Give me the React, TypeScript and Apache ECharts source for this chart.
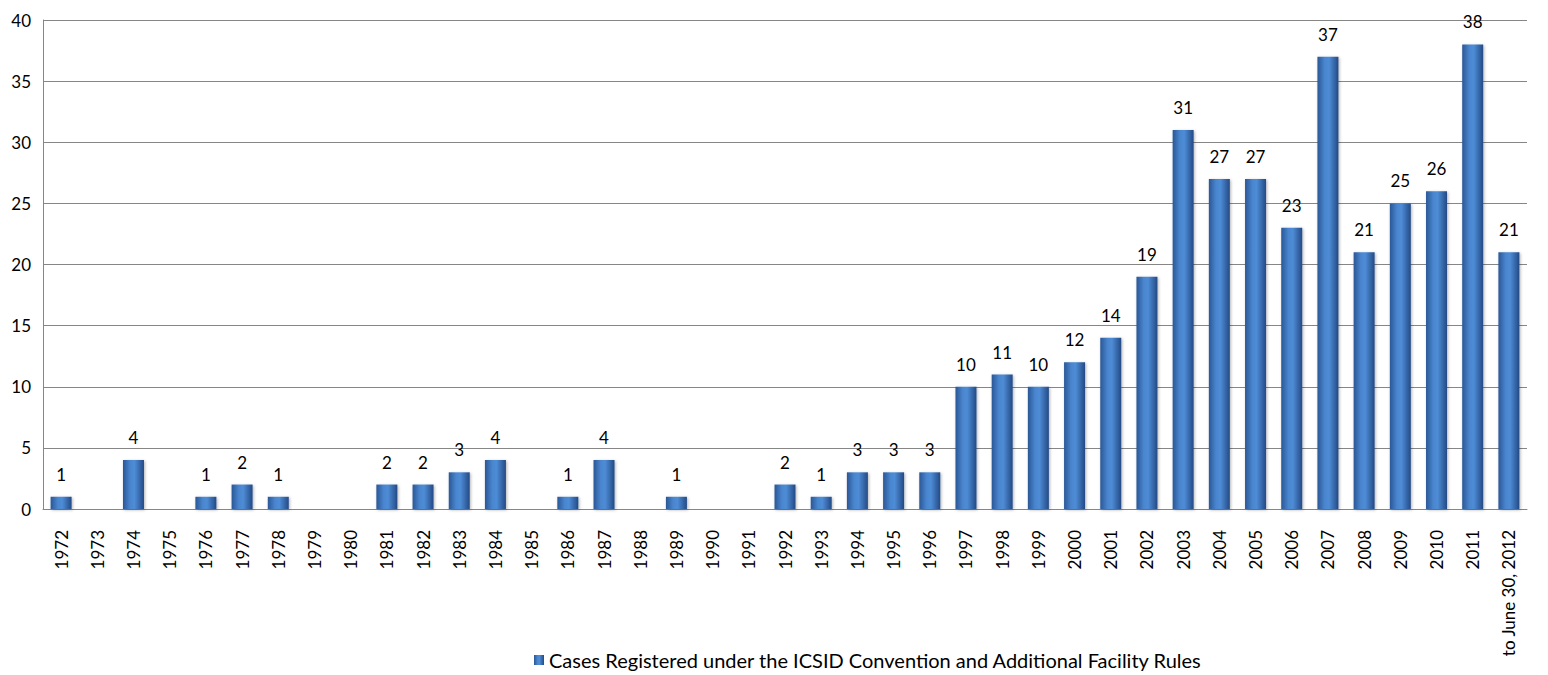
import React, { useEffect, useRef } from "react";
import * as echarts from "echarts";

const categories = [
  "1972","1973","1974","1975","1976","1977","1978","1979","1980","1981",
  "1982","1983","1984","1985","1986","1987","1988","1989","1990","1991",
  "1992","1993","1994","1995","1996","1997","1998","1999","2000","2001",
  "2002","2003","2004","2005","2006","2007","2008","2009","2010","2011",
  "to June 30, 2012",
];
const cases = [
  1, 0, 4, 0, 1, 2, 1, 0, 0, 2,
  2, 3, 4, 0, 1, 4, 0, 1, 0, 0,
  2, 1, 3, 3, 3, 10, 11, 10, 12, 14,
  19, 31, 27, 27, 23, 37, 21, 25, 26, 38,
  21,
];
const seriesName = "Cases Registered under the ICSID Convention and Additional Facility Rules";
const FONT = "Lato, 'Open Sans', sans-serif";

export default function App() {
  const ref = useRef<HTMLDivElement>(null);
  useEffect(() => {
    if (!ref.current) return;
    const chart = echarts.init(ref.current, null, { renderer: "svg" });
    const barGrad = new echarts.graphic.LinearGradient(0, 0, 1, 0, [
      { offset: 0, color: "#2a5796" },
      { offset: 0.35, color: "#4a86cf" },
      { offset: 0.55, color: "#4e8cd6" },
      { offset: 1, color: "#234a85" },
    ]);
    chart.setOption({
      animation: false,
      backgroundColor: "#ffffff",
      grid: { left: 43, right: 21, top: 20, bottom: 166, containLabel: false },
      legend: {
        bottom: 0,
        left: 529,
        itemWidth: 10,
        itemHeight: 10,
        icon: "rect",
        itemGap: 4,
        textStyle: { fontFamily: FONT, fontSize: 20, color: "#000" },
        data: [seriesName],
      },
      xAxis: {
        type: "category",
        data: categories,
        axisLine: { show: true, lineStyle: { color: "#868686" } },
        axisTick: { show: false },
        axisLabel: {
          rotate: 90,
          interval: 0,
          margin: 21,
          fontFamily: FONT,
          fontSize: 17,
          color: "#000",
        },
      },
      yAxis: {
        type: "value",
        min: 0,
        max: 40,
        interval: 5,
        axisLine: { show: true, lineStyle: { color: "#868686" } },
        axisTick: { show: false },
        splitLine: { lineStyle: { color: "#868686", width: 1 } },
        axisLabel: { fontFamily: FONT, fontSize: 17, color: "#000", margin: 12 },
      },
      series: [
        {
          name: seriesName,
          type: "bar",
          data: cases,
          barWidth: "58%",
          itemStyle: {
            color: barGrad,
            shadowColor: "rgba(0,0,0,0.3)",
            shadowBlur: 3,
            shadowOffsetX: 1,
            shadowOffsetY: 1,
          },
          label: {
            show: true,
            position: "top",
            distance: 14,
            fontFamily: FONT,
            fontSize: 17,
            color: "#000",
            formatter: (p: any) => (p.value === 0 ? "" : String(p.value)),
          },
        },
      ],
    });
    return () => chart.dispose();
  }, []);
  return (
    <div
      ref={ref}
      style={{ position: "absolute", left: 0, top: 0, width: 1548, height: 675 }}
    />
  );
}
